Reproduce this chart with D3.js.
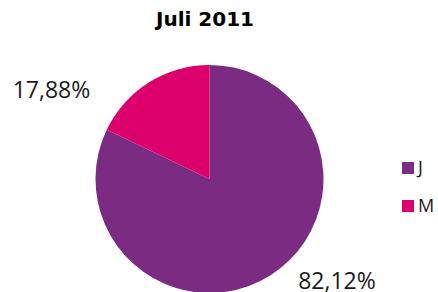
<!DOCTYPE html>
<html>
<head>
<meta charset="utf-8">
<script src="https://cdn.jsdelivr.net/npm/d3@7"></script>
<style>
  body { margin: 0; background: #fff; }
  text { font-family: "Open Sans", sans-serif; }
</style>
</head>
<body>
<script>
const width = 438,
    height = 292;

const categories = ['J', 'M'];
const values = [82.12, 17.88];
const labels = ['82,12%', '17,88%'];
const colors = ['#7B2C82', '#DC006C'];

var svg = d3.select('body').append('svg')
    .attr('width', width)
    .attr('height', height);

svg.append('text')
    .attr('x', 205)
    .attr('y', 26)
    .attr('text-anchor', 'middle')
    .style('font-family', '"DejaVu Sans", sans-serif')
    .style('font-size', '20px')
    .style('font-weight', 'bold')
    .text('Juli 2011');

const cx = 209.5, cy = 179, r = 114;

var pie = d3.pie().sort(null).value(d => d)(values);
var arc = d3.arc().innerRadius(0).outerRadius(r);

var g = svg.append('g')
    .attr('transform', `translate(${cx},${cy})`);

g.selectAll('path')
    .data(pie)
  .enter().append('path')
    .attr('d', arc)
    .attr('fill', (d, i) => colors[i]);

// labels outside the slices
var labelPos = [[337, 289], [51.5, 98]];
svg.selectAll('text.lbl')
    .data(labels)
  .enter().append('text')
    .attr('class', 'lbl')
    .attr('x', (d, i) => labelPos[i][0])
    .attr('y', (d, i) => labelPos[i][1])
    .attr('text-anchor', 'middle')
    .style('font-size', '23px')
    .style('fill', '#1a1a1a')
    .text(d => d);

var legend = svg.append('g')
    .attr('transform', 'translate(402,162)');

var item = legend.selectAll('g')
    .data(categories)
  .enter().append('g')
    .attr('transform', (d, i) => `translate(0,${i * 38})`);

item.append('rect')
    .attr('width', 12)
    .attr('height', 12)
    .attr('fill', (d, i) => colors[i]);

item.append('text')
    .attr('x', 16)
    .attr('y', 12)
    .style('font-size', '18px')
    .style('fill', '#1a1a1a')
    .text(d => d);
</script>
</body>
</html>
